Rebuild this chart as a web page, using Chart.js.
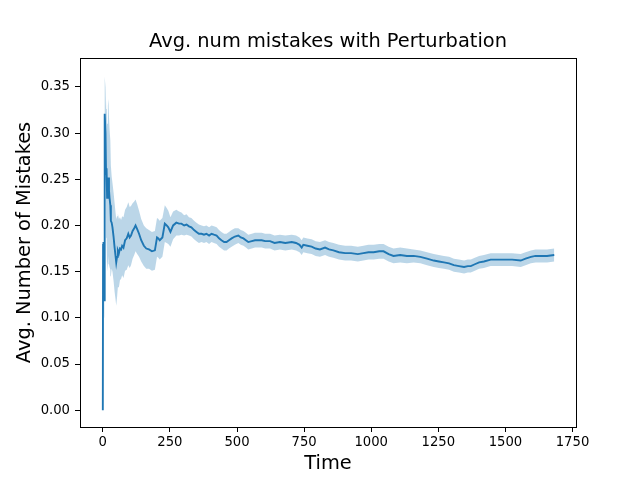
<!DOCTYPE html>
<html>
<head>
<meta charset="utf-8">
<script src="https://cdn.jsdelivr.net/npm/chart.js@4.4.1/dist/chart.umd.min.js"></script>
<style>
  html, body { margin: 0; padding: 0; background: #fff; }
  #mychart { display: block; }
</style>
</head>
<body>
<canvas id="mychart" width="640" height="480"></canvas>
<script>
const ctx = document.getElementById("mychart").getContext("2d");

// time steps
const times = [
  0, 1, 2, 3, 5, 6, 8, 10, 12, 14, 16, 19, 21, 23, 25, 28, 30, 33, 36, 40,
  44, 47, 50, 53, 56, 60, 64, 68, 72, 77, 83, 89, 95, 100, 105, 111, 117, 122, 128, 135,
  143, 153, 162, 172, 183, 194, 202, 207, 212, 222, 231, 238, 244, 252, 262, 274, 284, 293, 303, 312,
  321, 330, 340, 349, 358, 368, 377, 386, 396, 405, 414, 424, 433, 442, 452, 461, 470, 480, 492, 505,
  514, 524, 533, 542, 555, 567, 580, 592, 605, 623, 640, 660, 680, 704, 720, 733, 741, 747, 762, 778,
  793, 809, 828, 843, 859, 880, 903, 925, 950, 971, 990, 1009, 1030, 1046, 1065, 1083, 1108, 1133, 1158, 1183,
  1208, 1233, 1252, 1271, 1290, 1308, 1327, 1346, 1360, 1371, 1386, 1402, 1420, 1445, 1470, 1495, 1525, 1557, 1575, 1595,
  1612, 1632, 1655, 1682
];

// average number of mistakes
const meanVals = [
  0.000, 0.180, 0.182, 0.125, 0.119, 0.200, 0.321, 0.300, 0.256, 0.262, 0.230, 0.245, 0.252, 0.238, 0.230, 0.222, 0.205, 0.203, 0.198, 0.188,
  0.176, 0.168, 0.160, 0.166, 0.173, 0.170, 0.175, 0.174, 0.178, 0.176, 0.184, 0.186, 0.191, 0.187, 0.189, 0.194, 0.197, 0.200, 0.196, 0.191,
  0.184, 0.178, 0.175, 0.174, 0.172, 0.173, 0.187, 0.186, 0.184, 0.187, 0.202, 0.200, 0.198, 0.193, 0.200, 0.203, 0.202, 0.202, 0.200, 0.201,
  0.199, 0.198, 0.195, 0.193, 0.191, 0.191, 0.190, 0.191, 0.189, 0.191, 0.190, 0.189, 0.186, 0.184, 0.182, 0.182, 0.184, 0.186, 0.188, 0.189,
  0.187, 0.186, 0.184, 0.182, 0.183, 0.184, 0.184, 0.184, 0.183, 0.183, 0.181, 0.182, 0.181, 0.182, 0.181, 0.179, 0.176, 0.179, 0.178, 0.177,
  0.175, 0.174, 0.176, 0.174, 0.173, 0.171, 0.170, 0.170, 0.169, 0.170, 0.171, 0.171, 0.172, 0.172, 0.169, 0.167, 0.168, 0.167, 0.167, 0.166,
  0.164, 0.162, 0.161, 0.160, 0.159, 0.157, 0.156, 0.155, 0.156, 0.156, 0.158, 0.160, 0.161, 0.163, 0.163, 0.163, 0.163, 0.162, 0.164, 0.166,
  0.167, 0.167, 0.167, 0.168
];

// half width of the shaded band
const bandHalf = [
  0.000, 0.005, 0.010, 0.020, 0.020, 0.030, 0.040, 0.050, 0.070, 0.075, 0.080, 0.085, 0.085, 0.080, 0.075, 0.070, 0.060, 0.050, 0.048, 0.048,
  0.048, 0.047, 0.047, 0.044, 0.040, 0.037, 0.034, 0.032, 0.032, 0.033, 0.033, 0.034, 0.034, 0.033, 0.032, 0.030, 0.029, 0.028, 0.027, 0.025,
  0.023, 0.022, 0.022, 0.021, 0.021, 0.021, 0.021, 0.021, 0.021, 0.021, 0.020, 0.019, 0.018, 0.016, 0.015, 0.014, 0.013, 0.012, 0.011, 0.011,
  0.010, 0.010, 0.010, 0.010, 0.010, 0.009, 0.009, 0.009, 0.009, 0.009, 0.009, 0.009, 0.009, 0.009, 0.009, 0.009, 0.009, 0.009, 0.009, 0.008,
  0.008, 0.008, 0.008, 0.008, 0.008, 0.008, 0.008, 0.008, 0.008, 0.008, 0.008, 0.008, 0.008, 0.008, 0.008, 0.008, 0.008, 0.008, 0.008, 0.008,
  0.008, 0.008, 0.008, 0.008, 0.008, 0.008, 0.008, 0.008, 0.008, 0.008, 0.008, 0.008, 0.008, 0.008, 0.008, 0.008, 0.008, 0.008, 0.007, 0.007,
  0.007, 0.007, 0.007, 0.007, 0.007, 0.007, 0.007, 0.007, 0.007, 0.007, 0.007, 0.007, 0.007, 0.007, 0.007, 0.007, 0.007, 0.007, 0.007, 0.007,
  0.007, 0.007, 0.007, 0.007
];

const xTicks = [0, 250, 500, 750, 1000, 1250, 1500, 1750];
const yTicks = [0, 0.05, 0.1, 0.15, 0.2, 0.25, 0.3, 0.35];

const blue = "#1f77b4";
const bandColor = "rgba(31,119,180,0.3)";
const fontFamily = "'DejaVu Sans', sans-serif";

const meanPoints = times.map((t, i) => ({ x: t, y: meanVals[i] }));
const upperPoints = times.map((t, i) => ({ x: t, y: meanVals[i] + bandHalf[i] }));
const lowerPoints = times.map((t, i) => ({ x: t, y: meanVals[i] - bandHalf[i] }));

// matplotlib style frame round the plot area
const frame = {
  id: "frame",
  afterDraw(chart) {
    const { left, top, right, bottom } = chart.chartArea;
    const c = chart.ctx;
    c.save();
    c.strokeStyle = "#000";
    c.lineWidth = 1;
    c.strokeRect(Math.round(left) + 0.5, Math.round(top) + 0.5,
      Math.round(right - left), Math.round(bottom - top));
    c.restore();
  },
};

const data = {
  datasets: [
    {
      data: meanPoints,
      borderColor: blue,
      borderWidth: 1.9,
      pointRadius: 0,
      fill: false,
      tension: 0,
    },
    {
      data: upperPoints,
      borderColor: "transparent",
      borderWidth: 0,
      backgroundColor: bandColor,
      pointRadius: 0,
      fill: "+1",
      tension: 0,
    },
    {
      data: lowerPoints,
      borderColor: "transparent",
      borderWidth: 0,
      pointRadius: 0,
      fill: false,
      tension: 0,
    },
  ],
};

const tickFont = { family: fontFamily, size: 13.2 };

const config = {
  type: "line",
  data: data,
  plugins: [frame],
  options: {
    responsive: false,
    animation: false,
    devicePixelRatio: 1,
    layout: { padding: { left: 16, right: 0, top: 0, bottom: 0 } },
    plugins: {
      legend: { display: false },
      tooltip: { enabled: false },
      title: {
        display: true,
        text: "Avg. num mistakes with Perturbation",
        color: "#000",
        font: { family: fontFamily, size: 19.4, weight: "normal" },
        padding: { top: 30.5, bottom: 4.2 },
      },
    },
    scales: {
      x: {
        type: "linear",
        min: -85,
        max: 1763,
        afterBuildTicks: (scale) => {
          scale.ticks = xTicks.map((v) => ({ value: v }));
        },
        afterFit: (scale) => {
          scale.height = 53;
        },
        ticks: {
          color: "#000",
          font: tickFont,
          maxRotation: 0,
          autoSkip: false,
          padding: 3,
          callback: function (value) {
            return String(value);
          },
        },
        grid: {
          drawOnChartArea: false,
          tickLength: 5,
          tickColor: "#000",
          tickWidth: 1,
        },
        border: { display: false },
        title: {
          display: true,
          text: "Time",
          color: "#000",
          font: { family: fontFamily, size: 19.4 },
          padding: { top: 0, bottom: 4 },
        },
      },
      y: {
        min: -0.0182,
        max: 0.3813,
        afterBuildTicks: (scale) => {
          scale.ticks = yTicks.map((v) => ({ value: v }));
        },
        afterFit: (scale) => {
          scale.width = 64;
        },
        ticks: {
          color: "#000",
          font: tickFont,
          padding: 5,
          callback: function (value) {
            return value.toFixed(2);
          },
        },
        grid: {
          drawOnChartArea: false,
          tickLength: 5,
          tickColor: "#000",
          tickWidth: 1,
        },
        border: { display: false },
        title: {
          display: true,
          text: "Avg. Number of Mistakes",
          color: "#000",
          font: { family: fontFamily, size: 19.4 },
          padding: { top: -2.7, bottom: 0 },
        },
      },
      // empty right-hand axis, only reserves the margin right of the plot
      yRight: {
        position: "right",
        display: true,
        min: 0,
        max: 1,
        afterFit: (scale) => {
          scale.width = 64;
        },
        ticks: { display: false },
        grid: { display: false },
        border: { display: false },
      },
    },
  },
};

const myChart = new Chart(ctx, config);
</script>
</body>
</html>
